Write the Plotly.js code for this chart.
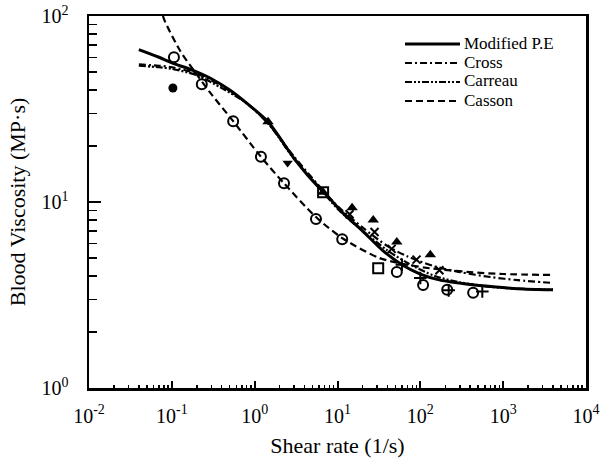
<!DOCTYPE html>
<html><head><meta charset="utf-8">
<script src="https://cdn.plot.ly/plotly-3.0.1.min.js"></script>
<style>html,body{margin:0;padding:0;background:#fff}#plot{width:603px;height:465px}</style>
</head><body><div id="plot"></div>
<script>
// Model curves
const peX = [0.04, 0.07, 0.1, 0.18, 0.3, 0.5, 0.8, 1.45, 2.9, 5, 7.5, 12, 20, 35, 60, 100, 174, 400, 760, 1500, 4000];
const peY = [66, 60, 56, 51, 46, 40, 34, 27, 17.5, 13, 10.8, 8.6, 7.0, 5.5, 4.6, 4.1, 3.8, 3.6, 3.5, 3.42, 3.37];
const crossX = [0.04, 0.07, 0.1, 0.2, 0.4, 0.8, 1.5, 3, 6, 10, 20, 40, 70, 150, 300, 700, 1500, 4000];
const crossY = [55, 54, 53, 49, 42, 34, 26, 17.5, 12.2, 9.5, 7.3, 5.8, 5.1, 4.5, 4.2, 3.95, 3.8, 3.67];
const carX = [0.04, 0.07, 0.1, 0.2, 0.4, 0.8, 1.5, 3, 6, 10, 20, 40, 70, 150, 300, 700, 1500, 4000];
const carY = [54, 53, 52, 48, 41, 34, 26, 17, 12, 9.2, 7.0, 5.5, 4.7, 4.0, 3.7, 3.5, 3.42, 3.38];
const cassonX = [0.078, 0.083, 0.126, 0.19, 0.3, 0.55, 1.19, 2.26, 5.5, 11.4, 32, 70, 132, 400, 1000, 4000];
const cassonY = [100, 93, 65, 50, 38, 27.2, 17.5, 12.6, 8.3, 6.4, 5.0, 4.6, 4.4, 4.2, 4.1, 4.05];
// Measured data
const circX = [0.106, 0.23, 0.55, 1.19, 2.26, 5.5, 11.4, 52, 108, 211, 434];
const circY = [60, 43, 27.2, 17.5, 12.6, 8.1, 6.3, 4.2, 3.58, 3.37, 3.25];
const dotX = [0.103];
const dotY = [41];
const triX = [1.45, 6.7, 15, 27, 52, 132];
const triY = [27, 11.3, 9.3, 8.0, 6.1, 5.2];
const triDX = [2.5];
const triDY = [16.2];
const sqX = [6.7, 31];
const sqY = [11.3, 4.4];
const xmX = [14, 28, 45, 90, 170];
const xmY = [8.6, 6.9, 5.6, 4.9, 4.3];
const plX = [60, 100, 220, 560];
const plY = [4.6, 3.9, 3.35, 3.3];
// Axis ticks
const xTickVals = [0.01, 0.1, 1, 10, 100, 1000, 10000];
const xTickText = ['10<sup>-2</sup>', '10<sup>-1</sup>', '10<sup>0</sup>', '10<sup>1</sup>', '10<sup>2</sup>', '10<sup>3</sup>', '10<sup>4</sup>'];
const yTickVals = [1, 10, 100];
const yTickText = ['10<sup>0</sup>', '10<sup>1</sup>', '10<sup>2</sup>'];
// Legend
const legendNames = ['Modified P.E', 'Cross', 'Carreau', 'Casson'];

const black = '#000';
const styles = [
  {color: black, width: 3, dash: 'solid'},
  {color: black, width: 2.2, dash: '7px,3px,2px,3px'},
  {color: black, width: 2.2, dash: '7px,2px,2px,2px,2px,2px'},
  {color: black, width: 2.2, dash: '7px,4px'}
];
const curves = [[peX, peY], [crossX, crossY], [carX, carY], [cassonX, cassonY]];
const traces = curves.map((c, i) => ({x: c[0], y: c[1], mode: 'lines', name: legendNames[i],
  line: Object.assign({shape: 'spline', smoothing: 0.8}, styles[i]), showlegend: false}));
traces.push(
  {x: circX, y: circY, mode: 'markers', showlegend: false, marker: {symbol: 'circle-open', size: 10, color: black, line: {width: 2, color: black}}},
  {x: dotX, y: dotY, mode: 'markers', showlegend: false, marker: {symbol: 'circle', size: 9, color: black}},
  {x: triX, y: triY, mode: 'markers', showlegend: false, marker: {symbol: 'triangle-up', size: 10, color: black}},
  {x: triDX, y: triDY, mode: 'markers', showlegend: false, marker: {symbol: 'triangle-down', size: 9, color: black}},
  {x: sqX, y: sqY, mode: 'markers', showlegend: false, marker: {symbol: 'square-open', size: 10, color: black, line: {width: 2, color: black}}},
  {x: xmX, y: xmY, mode: 'markers', showlegend: false, marker: {symbol: 'x-thin-open', size: 8, color: black, line: {width: 2, color: black}}},
  {x: plX, y: plY, mode: 'markers', showlegend: false, marker: {symbol: 'cross-thin-open', size: 9, color: black, line: {width: 2, color: black}}},
  // carrier trace for the minor-tick axes (invisible)
  {x: peX, y: peY, xaxis: 'x2', yaxis: 'y2', mode: 'lines', line: {width: 0, color: 'rgba(0,0,0,0)'}, showlegend: false, hoverinfo: 'skip'}
);

// minor tick positions
const minorX = [], minorY = [];
for (let e = -2; e < 4; e++) for (let d = 2; d <= 9; d++) minorX.push(d * Math.pow(10, e));
for (let e = 0; e < 2; e++) for (let d = 2; d <= 9; d++) minorY.push(d * Math.pow(10, e));

const W = 603, H = 465, L = 89, R = 17, T = 16, B = 77;
const pw = W - L - R, ph = H - T - B;
const px2x = p => (p - L) / pw;
const py2y = p => (H - B - p) / ph;

const font = {family: '"Liberation Serif", "Times New Roman", serif', color: black};
const annotations = [], shapes = [];
const rowY = [43, 62, 81, 100];
legendNames.forEach((n, i) => {
  annotations.push({xref: 'paper', yref: 'paper', x: px2x(463), y: py2y(rowY[i]), xanchor: 'left', yanchor: 'middle',
    text: n, showarrow: false, borderpad: 0, font: Object.assign({size: 17}, font)});
  shapes.push({type: 'line', xref: 'paper', yref: 'paper', x0: px2x(405), x1: px2x(460), y0: py2y(rowY[i] + 1), y1: py2y(rowY[i] + 1),
    line: styles[i]});
});

const layout = {
  width: W, height: H,
  margin: {l: L, r: R, t: T, b: B},
  paper_bgcolor: '#fff', plot_bgcolor: '#fff',
  font: Object.assign({size: 17}, font),
  showlegend: false,
  annotations: annotations, shapes: shapes,
  xaxis: {type: 'log', range: [-2, 4], tickvals: xTickVals, ticktext: xTickText,
          showgrid: false, zeroline: false, showline: true, linewidth: 2.5, linecolor: black, mirror: true,
          ticks: 'inside', ticklen: 7, tickwidth: 2, tickcolor: black, ticklabelstandoff: 8,
          tickfont: Object.assign({size: 20}, font),
          title: {text: 'Shear rate (1/s)', font: Object.assign({size: 22}, font), standoff: 12}},
  yaxis: {type: 'log', range: [0, 2], tickvals: yTickVals, ticktext: yTickText,
          showgrid: false, zeroline: false, showline: true, linewidth: 2.5, linecolor: black, mirror: true,
          ticks: 'inside', ticklen: 12, tickwidth: 2, tickcolor: black, ticklabelstandoff: 14,
          tickfont: Object.assign({size: 20}, font),
          title: {text: 'Blood Viscosity (MP·s)', font: Object.assign({size: 22}, font), standoff: 10}},
  xaxis2: {type: 'log', range: [-2, 4], overlaying: 'x', anchor: 'y', side: 'bottom', tickvals: minorX,
           showticklabels: false, showgrid: false, zeroline: false, showline: false,
           ticks: 'inside', ticklen: 3.5, tickwidth: 1.5, tickcolor: black},
  yaxis2: {type: 'log', range: [0, 2], overlaying: 'y', anchor: 'x', side: 'left', tickvals: minorY,
           showticklabels: false, showgrid: false, zeroline: false, showline: false,
           ticks: 'inside', ticklen: 8, tickwidth: 1.5, tickcolor: black}
};
Plotly.newPlot('plot', traces, layout, {displayModeBar: false, staticPlot: true});
</script></body></html>
